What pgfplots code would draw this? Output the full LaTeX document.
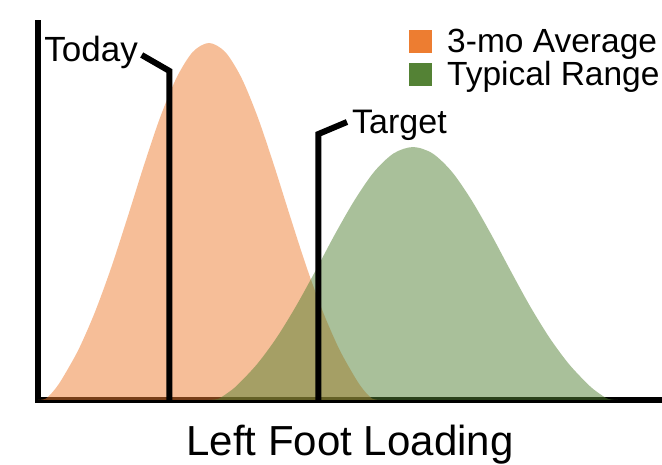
\documentclass[border=0pt]{standalone}
\usepackage{fontspec}
\setmainfont{Liberation Sans}
\usepackage{pgfplots}
\pgfplotsset{compat=1.18}

\definecolor{avgorange}{HTML}{ED7D31}
\definecolor{rangegreen}{HTML}{548235}

\begin{document}
\begin{tikzpicture}
\begin{axis}[
    at={(38pt,65pt)}, anchor=south west,
    scale only axis,
    width=624pt, height=377pt,
    xmin=0, xmax=100, ymin=0, ymax=1,
    xtick=\empty, ytick=\empty,
    axis lines=left,
    axis line style={-, line width=6pt, line cap=rect},
    clip=false,
    xlabel={Left Foot Loading},
    xlabel style={at={(axis description cs:0.5,0)}, anchor=base, yshift=-56pt,
        inner sep=0pt, font=\fontsize{42}{46}\selectfont},
    legend style={draw=none, fill=none, at={(0.5946,0.9867)}, anchor=north west,
        font=\fontsize{33.5}{35}\selectfont, row sep=0pt, column sep=0pt,
        inner sep=0pt,
        nodes={inner sep=0pt, text height=24pt, text depth=9pt, anchor=base west}},
    legend cell align=left,
]
% 3-month average distribution
\addplot[draw=none, fill=avgorange, fill opacity=0.5, smooth,
    legend image code/.code={\fill[avgorange, opacity=1, fill opacity=1] (0pt,-1pt) rectangle (23pt,22pt); \path (38pt,0pt);}]
  coordinates {
    (0.00,0) (1.28,0.004) (2.59,0.026) (3.89,0.057) (6.50,0.134) (9.12,0.233)
    (11.73,0.351) (14.34,0.484) (16.95,0.621) (19.56,0.749) (22.18,0.854)
    (24.79,0.923) (27.40,0.947) (30.01,0.923) (32.62,0.854) (35.24,0.749)
    (37.85,0.621) (40.46,0.484) (43.07,0.351) (45.68,0.233) (48.30,0.134)
    (50.91,0.057) (52.21,0.026) (53.52,0.004) (54.80,0)
  } \closedcycle;
\addlegendentry{3-mo Average}

% typical range distribution
\addplot[draw=none, fill=rangegreen, fill opacity=0.5, smooth,
    legend image code/.code={\fill[rangegreen, opacity=1, fill opacity=1] (0pt,-1pt) rectangle (23pt,22pt); \path (38pt,0pt);}]
  coordinates {
    (27.29,0) (28.85,0.003) (30.41,0.019) (31.98,0.040) (35.10,0.095)
    (38.23,0.165) (41.35,0.249) (44.48,0.343) (47.60,0.440) (50.73,0.530)
    (53.85,0.605) (56.98,0.654) (60.10,0.671) (63.23,0.654) (66.35,0.605)
    (69.48,0.530) (72.60,0.440) (75.73,0.343) (78.85,0.249) (81.98,0.165)
    (85.10,0.095) (88.23,0.040) (89.79,0.019) (91.35,0.003) (92.91,0)
  } \closedcycle;
\addlegendentry{Typical Range}

% markers
\addplot[forget plot, black, line width=6pt, line join=miter]
  coordinates {(21.07,0) (21.07,0.8727) (16.62,0.9151)};
\addplot[forget plot, black, line width=6pt, line join=miter]
  coordinates {(44.95,0) (44.95,0.7056) (49.52,0.7374)};

\node[anchor=base east, inner sep=0pt, font=\fontsize{35}{37}\selectfont]
  at (axis cs:16.03,0.8966) {Today};
\node[anchor=base west, inner sep=0pt, font=\fontsize{34}{36}\selectfont]
  at (axis cs:50.32,0.7082) {Target};
\end{axis}
\pgfresetboundingbox
\path[use as bounding box] (0,0) rectangle (662pt,465pt);
\end{tikzpicture}
\end{document}
